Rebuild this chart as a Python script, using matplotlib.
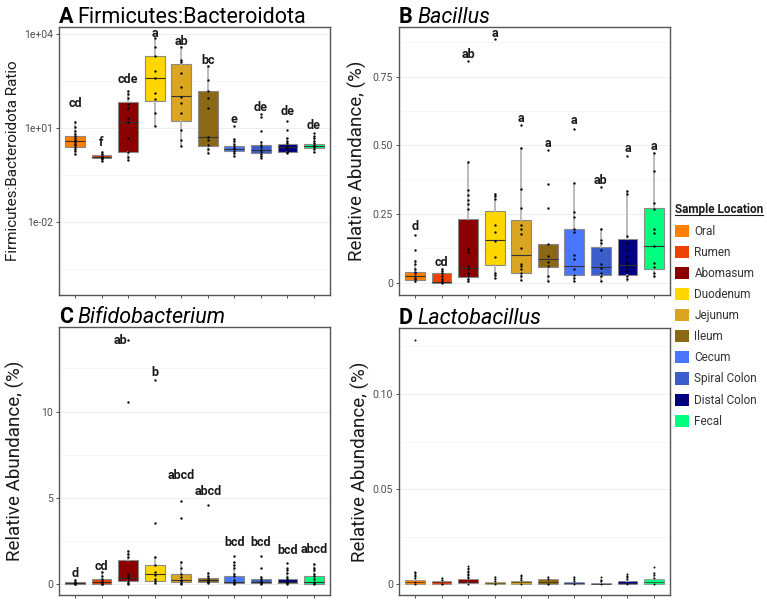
import numpy as np
import matplotlib
matplotlib.use('Agg')
from matplotlib import pyplot as plt
from matplotlib.patches import Patch
from matplotlib.lines import Line2D

plt.rcParams['font.family'] = ['Roboto', 'DejaVu Sans']

locations = ['Oral', 'Rumen', 'Abomasum', 'Duodenum', 'Jejunum', 'Ileum',
             'Cecum', 'Spiral Colon', 'Distal Colon', 'Fecal']
colors = ['#FF7F00', '#EE4000', '#8B0000', '#FFD700', '#DAA520', '#8B6914',
          '#4876FF', '#3A5FCD', '#000080', '#00FF7F']

# ---- A: Firmicutes:Bacteroidota ratio (log scale) ----
a_q1 = [2.6, 1.10, 1.79, 76, 17.1, 2.78, 1.88, 1.59, 1.75, 2.40]
a_med = [3.85, 1.24, 16.2, 394, 105, 5.15, 2.18, 2.03, 2.58, 2.78]
a_q3 = [5.7, 1.40, 67.6, 2075, 1153, 158, 2.66, 2.93, 3.15, 3.22]
a_lo = [1.48, 0.92, 0.97, 11.8, 2.72, 1.66, 1.31, 1.10, 1.66, 1.79]
a_hi = [16.3, 1.71, 158, 7450, 3846, 973, 4.46, 3.73, 4.8, 4.8]
a_pts = [
    [16.3, 11, 8, 6.5, 5.5, 4.8, 4.2, 3.9, 3.6, 3.2, 2.9, 2.6, 2.2, 1.9, 1.5],
    [1.71, 1.5, 1.35, 1.25, 1.15, 1.05, 0.92],
    [158, 120, 90, 60, 45, 22, 16, 5, 1.8, 1.2, 0.97],
    [7450, 4030, 2030, 689, 394, 131, 86, 30, 11.8],
    [4030, 1514, 1337, 569, 212, 102, 62.8, 30, 8.8, 4.2, 2.7],
    [973, 348, 158, 91, 43, 5.2, 4.2, 2.93, 2.18, 1.66],
    [11.8, 4.46, 3.8, 3.2, 2.7, 2.3, 2.1, 1.9, 1.6, 1.31],
    [28, 23.4, 8.2, 3.73, 3.0, 2.5, 2.0, 1.8, 1.5, 1.3, 1.1],
    [17.1, 8.6, 4.8, 4.0, 3.3, 2.9, 2.6, 2.3, 2.0, 1.8, 1.66],
    [7.2, 5.7, 4.8, 4.0, 3.3, 2.9, 2.7, 2.5, 2.2, 1.79],
]
a_letters = ['cd', 'f', 'cde', 'a', 'ab', 'bc', 'e', 'de', 'de', 'de']
a_letter_y = [59.7, 3.47, 348, 10770, 5810, 1440, 19.4, 46.8, 33.9, 12.1]

# ---- B: Bacillus ----
b_q1 = [0.0085, 0.0, 0.022, 0.063, 0.036, 0.058, 0.028, 0.027, 0.028, 0.049]
b_med = [0.024, 0.004, 0.055, 0.154, 0.0995, 0.085, 0.062, 0.056, 0.063, 0.135]
b_q3 = [0.040, 0.034, 0.233, 0.260, 0.227, 0.141, 0.197, 0.131, 0.159, 0.273]
b_lo = [0.002, 0.0, 0.002, 0.019, 0.010, 0.006, 0.008, 0.006, 0.006, 0.021]
b_hi = [0.079, 0.051, 0.439, 0.324, 0.491, 0.141, 0.363, 0.197, 0.334, 0.473]
b_pts = [
    [0.175, 0.119, 0.079, 0.067, 0.049, 0.039, 0.034, 0.024, 0.018, 0.012, 0.006],
    [0.051, 0.043, 0.034, 0.024, 0.015, 0.006, 0.0],
    [0.808, 0.439, 0.339, 0.320, 0.302, 0.288, 0.270, 0.124, 0.112, 0.061,
     0.049, 0.036, 0.024, 0.012, 0.006],
    [0.886, 0.324, 0.316, 0.304, 0.210, 0.186, 0.152, 0.095, 0.036, 0.028, 0.019],
    [0.574, 0.491, 0.342, 0.271, 0.210, 0.194, 0.179, 0.127, 0.070, 0.061,
     0.049, 0.036, 0.024, 0.010],
    [0.483, 0.360, 0.272, 0.141, 0.097, 0.075, 0.061, 0.024, 0.006],
    [0.558, 0.363, 0.257, 0.240, 0.197, 0.183, 0.100, 0.087, 0.049, 0.028,
     0.016, 0.008],
    [0.348, 0.197, 0.154, 0.143, 0.121, 0.067, 0.055, 0.034, 0.024, 0.006],
    [0.461, 0.334, 0.322, 0.170, 0.146, 0.121, 0.093, 0.073, 0.058, 0.042,
     0.024, 0.012],
    [0.473, 0.408, 0.291, 0.270, 0.197, 0.180, 0.135, 0.073, 0.057, 0.036, 0.024],
]
b_letters = ['d', 'cd', 'ab', 'a', 'a', 'a', 'a', 'ab', 'a', 'a']
b_letter_y = [0.204, 0.074, 0.831, 0.908, 0.597, 0.507, 0.590, 0.374, 0.489, 0.495]

# ---- C: Bifidobacterium ----
c_q1 = [0.0, 0.0, 0.19, 0.17, 0.1, 0.1, 0.04, 0.04, 0.04, 0.02]
c_med = [0.05, 0.13, 0.33, 0.58, 0.23, 0.23, 0.1, 0.13, 0.13, 0.1]
c_q3 = [0.1, 0.27, 1.39, 1.12, 0.6, 0.33, 0.45, 0.27, 0.27, 0.48]
c_lo = [0.0, 0.0, 0.0, 0.04, 0.02, 0.03, 0.0, 0.0, 0.0, 0.02]
c_hi = [0.23, 0.71, 1.93, 1.58, 1.29, 0.62, 1.25, 0.42, 0.62, 1.14]
c_pts = [
    [0.23, 0.12, 0.08, 0.05, 0.03, 0.01, 0.0],
    [0.71, 0.45, 0.27, 0.2, 0.13, 0.07, 0.02, 0.0],
    [14.13, 10.54, 1.93, 1.75, 1.55, 0.6, 0.45, 0.33, 0.2, 0.05, 0.0],
    [11.8, 3.55, 1.58, 1.1, 0.7, 0.5, 0.3, 0.17, 0.04],
    [4.83, 3.8, 1.29, 0.9, 0.6, 0.4, 0.25, 0.15, 0.08, 0.02],
    [4.57, 0.62, 0.45, 0.33, 0.23, 0.15, 0.1, 0.03],
    [1.64, 1.25, 1.1, 0.95, 0.6, 0.45, 0.25, 0.1, 0.04, 0.0],
    [1.64, 0.95, 0.42, 0.27, 0.15, 0.1, 0.04, 0.0],
    [1.2, 0.95, 0.8, 0.62, 0.4, 0.27, 0.13, 0.05, 0.0],
    [1.14, 0.95, 0.8, 0.6, 0.48, 0.3, 0.1, 0.05, 0.02],
]
c_letters = ['d', 'cd', 'ab', 'b', 'abcd', 'abcd', 'bcd', 'bcd', 'bcd', 'abcd']
c_letter_y = [0.62, 1.0, 14.13, 12.26, 6.27, 5.38, 2.41, 2.41, 1.93, 1.97]

# ---- D: Lactobacillus ----
d_q1 = [0.0, 0.0003, 0.0005, 0.0002, 0.0003, 0.0, 0.0, 0.0, 0.0, 0.0003]
d_med = [0.00105, 0.001, 0.0012, 0.0008, 0.001, 0.0012, 0.0008, 0.0003, 0.0006, 0.0014]
d_q3 = [0.00226, 0.0016, 0.0026, 0.0014, 0.0017, 0.0026, 0.0014, 0.0009, 0.0019, 0.0026]
d_lo = [0.0, 0.0, 0.0, 0.0, 0.0, 0.0, 0.0, 0.0, 0.0, 0.0]
d_hi = [0.0066, 0.0032, 0.0064, 0.004, 0.0035, 0.0038, 0.0037, 0.0024, 0.0045, 0.0061]
d_pts = [
    [0.1286, 0.0066, 0.0058, 0.005, 0.0043, 0.0035, 0.0012, 0.0],
    [0.0032, 0.0024, 0.0004, 0.0],
    [0.0096, 0.0088, 0.008, 0.0072, 0.0064, 0.0056, 0.0048, 0.004, 0.0032, 0.0004],
    [0.004, 0.0028, 0.0018, 0.0],
    [0.0049, 0.0042, 0.0035, 0.0024, 0.0002],
    [0.0038, 0.003, 0.0004, 0.0],
    [0.0037, 0.0026, 0.0018, 0.0002],
    [0.0037, 0.0024, 0.0015, 0.0],
    [0.0053, 0.0045, 0.0036, 0.0026, 0.0],
    [0.0093, 0.0061, 0.0048, 0.0035, 0.0003],
]

W, H = 767, 601


def px_axes(fig, left, top, right, bottom):
    return fig.add_axes([left / W, 1 - bottom / H, (right - left) / W, (bottom - top) / H])


def draw_boxes(ax, q1, med, q3, lo, hi, pts, ms=1.7, edge_lw=0.8):
    x = np.arange(1, len(locations) + 1)
    stats = [dict(q1=q1[i], med=med[i], q3=q3[i], whislo=lo[i], whishi=hi[i], fliers=[])
             for i in range(len(locations))]
    bp = ax.bxp(stats, positions=x, widths=0.75, patch_artist=True, showcaps=False,
                showfliers=False,
                boxprops=dict(edgecolor='#8a8a8a', linewidth=edge_lw),
                whiskerprops=dict(color='#b5b5b5', linewidth=1.3),
                medianprops=dict(color='#333333', linewidth=edge_lw))
    for patch, c in zip(bp['boxes'], colors):
        patch.set_facecolor(c)
    for i, p in enumerate(pts):
        ax.plot(np.full(len(p), x[i]), p, 'o', color='black', ms=ms, mew=0, zorder=4)
    ax.set_xlim(0.4, len(locations) + 0.6)
    ax.set_xticks(x)
    ax.set_xticklabels([])


def style_axes(ax, major, labels, minor):
    ax.set_axisbelow(True)
    ax.set_yticks(major)
    ax.set_yticklabels(labels)
    ax.set_yticks(minor, minor=True)
    ax.yaxis.set_minor_formatter(plt.NullFormatter())
    ax.yaxis.grid(True, which='major', color='#ebebeb', lw=0.6)
    ax.yaxis.grid(True, which='minor', color='#f3f3f3', lw=0.5)
    ax.tick_params(axis='both', which='major', length=2.5, width=0.6, color='#333333',
                   labelsize=7.5, labelcolor='#4d4d4d', pad=2)
    ax.tick_params(axis='y', which='minor', length=0)
    for s in ax.spines.values():
        s.set_color('#555555')
        s.set_linewidth(1.0)


def panel_title(ax, letter, name, italic):
    t1 = ax.annotate(letter, xy=(0, 1), xycoords='axes fraction', xytext=(0, 3.1),
                     textcoords='offset points', fontsize=15.5, fontweight='bold',
                     va='baseline', ha='left')
    ax.annotate(name, xy=(1, 0), xycoords=t1, xytext=(3, 0), textcoords='offset points',
                fontsize=15.5, style='italic' if italic else 'normal', va='bottom', ha='left')


def add_letters(ax, letters, ys, dx=None):
    for i, (s, y) in enumerate(zip(letters, ys)):
        off = 0 if dx is None else dx[i]
        ax.text(i + 1 + off, y, s, ha='center', va='center', fontsize=9,
                fontweight='bold', color='#1a1a1a')


fig = plt.figure(figsize=(W / 100, H / 100), dpi=100)

# A
axA = px_axes(fig, 59, 27, 330, 295)
draw_boxes(axA, a_q1, a_med, a_q3, a_lo, a_hi, a_pts)
axA.set_yscale('log')
axA.set_ylim(10 ** -4.32, 10 ** 4.23)
style_axes(axA, [1e-2, 1e1, 1e4], ['1e-02', '1e+01', '1e+04'],
           [10 ** -3.5, 10 ** -0.5, 10 ** 2.5])
add_letters(axA, a_letters, a_letter_y)
axA.set_ylabel('Firmicutes:Bacteroidota Ratio', fontsize=11, color='#1a1a1a')
axA.yaxis.set_label_coords(-0.145, 0.5)
panel_title(axA, 'A', 'Firmicutes:Bacteroidota', False)

# B
axB = px_axes(fig, 399, 27, 670, 295)
draw_boxes(axB, b_q1, b_med, b_q3, b_lo, b_hi, b_pts)
axB.set_ylim(-0.0445, 0.931)
style_axes(axB, [0, 0.25, 0.5, 0.75], ['0', '0.25', '0.50', '0.75'],
           [0.125, 0.375, 0.625, 0.875])
add_letters(axB, b_letters, b_letter_y)
axB.set_ylabel('Relative Abundance, (%)', fontsize=13.5, color='#1a1a1a')
axB.yaxis.set_label_coords(-0.118, 0.5)
panel_title(axB, 'B', 'Bacillus', True)

# C
axC = px_axes(fig, 59, 327, 330, 595)
draw_boxes(axC, c_q1, c_med, c_q3, c_lo, c_hi, c_pts)
axC.set_ylim(-0.64, 14.9)
style_axes(axC, [0, 5, 10], ['0', '5', '10'], [2.5, 7.5, 12.5])
c_dx = [0, 0, -0.3, 0, 0, 0, 0, 0, 0, 0]
add_letters(axC, c_letters, c_letter_y, c_dx)
axC.set_ylabel('Relative Abundance, (%)', fontsize=13.5, color='#1a1a1a')
axC.yaxis.set_label_coords(-0.125, 0.5)
panel_title(axC, 'C', 'Bifidobacterium', True)

# D
axD = px_axes(fig, 399, 328, 670, 595)
draw_boxes(axD, d_q1, d_med, d_q3, d_lo, d_hi, d_pts, ms=1.4, edge_lw=0.5)
axD.set_ylim(-0.0056, 0.1347)
style_axes(axD, [0, 0.05, 0.10], ['0', '0.05', '0.10'], [0.025, 0.075, 0.125])
axD.set_ylabel('Relative Abundance, (%)', fontsize=13.5, color='#1a1a1a')
axD.yaxis.set_label_coords(-0.107, 0.5)
panel_title(axD, 'D', 'Lactobacillus', True)

# legend
ttl = fig.text(675 / W, 1 - 210 / H, 'Sample Location', fontsize=8.5, fontweight='bold',
               ha='left', va='center', color='#1a1a1a')
handles = [Patch(facecolor=c, edgecolor='none', label=l) for c, l in zip(colors, locations)]
leg = fig.legend(handles=handles, loc='upper left', bbox_to_anchor=(675 / W, 1 - 225 / H),
                 frameon=False, fontsize=8.5, handlelength=1.2, handleheight=1.2,
                 handletextpad=0.45, labelspacing=0.68, borderpad=0, borderaxespad=0)
for t in leg.get_texts():
    t.set_color('#333333')

fig.canvas.draw()
bb = ttl.get_window_extent().transformed(fig.transFigure.inverted())
fig.add_artist(Line2D([bb.x0, bb.x1], [bb.y0 + 1.5 / H, bb.y0 + 1.5 / H],
                      transform=fig.transFigure, color='#1a1a1a', lw=0.8))

fig.savefig('out.png', dpi=100)
